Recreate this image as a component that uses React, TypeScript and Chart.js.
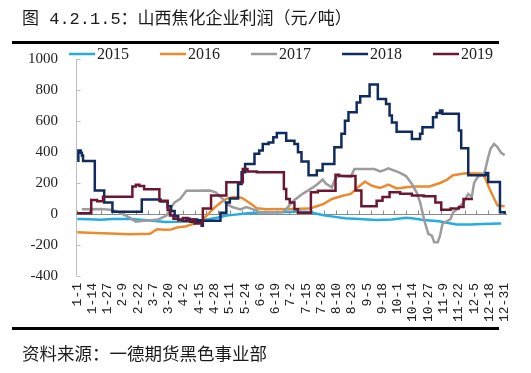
import React, { useEffect, useRef } from "react";
import { Chart, registerables } from "chart.js";

Chart.register(...registerables);

// ---------- data ----------
const seriesNames = ["2015", "2016", "2017", "2018", "2019"];

const tickLabels = [
  "1-1", "1-14", "1-27", "2-9", "2-22", "3-7", "3-20", "4-2", "4-15", "4-28",
  "5-11", "5-24", "6-6", "6-19", "7-2", "7-15", "7-28", "8-10", "8-23", "9-5",
  "9-18", "10-1", "10-14", "10-27", "11-9", "11-22", "12-5", "12-18", "12-31",
];
const TICK_LABEL_STEP = 13; // days between axis labels
const TICK_MARK_STEP = 10; // days between tick marks on the zero line

// day of year (0 = 1-1) and profit (yuan/ton)
const days2015 = [0, 10, 20, 30, 45, 60, 75, 85, 95, 105, 113, 120, 127, 135, 145, 155, 170, 185, 195, 200, 205, 210, 218, 228, 240, 255, 268, 280, 285, 295, 308, 316, 323, 335, 345, 361];
const vals2015 = [-32, -34, -37, -32, -33, -40, -52, -50, -45, -42, -32, -22, -10, -4, 5, 10, 12, 15, 15, 8, 0, -8, -17, -27, -33, -38, -36, -25, -28, -38, -47, -58, -68, -68, -64, -62];

const days2016 = [0, 15, 28, 45, 62, 68, 75, 80, 86, 92, 99, 106, 110, 116, 122, 127, 133, 140, 144, 149, 153, 161, 181, 198, 204, 210, 217, 226, 233, 239, 245, 251, 258, 265, 272, 280, 288, 300, 309, 315, 320, 331, 344, 347, 351, 355, 358, 364];
const vals2016 = [-118, -122, -126, -130, -128, -98, -102, -100, -85, -80, -64, -43, -12, 35, 72, 98, 110, 105, 86, 59, 37, 30, 33, 35, 50, 65, 97, 118, 130, 172, 208, 182, 168, 190, 165, 172, 178, 178, 200, 222, 250, 263, 262, 240, 165, 100, 55, 50];

const days2017 = [4, 20, 28, 33, 37, 45, 50, 55, 69, 76, 79, 83, 88, 93, 113, 118, 122, 125, 127, 132, 139, 144, 148, 152, 156, 175, 178, 181, 185, 192, 201, 205, 209, 212, 217, 219, 222, 233, 236, 253, 258, 262, 265, 270, 275, 280, 285, 289, 292, 294, 296, 299, 302, 304, 307, 309, 311, 314, 318, 320, 324, 329, 333, 336, 338, 341, 345, 347, 350, 352, 355, 358, 361, 364];
const vals2017 = [30, 32, 28, 20, 5, -25, -50, -45, -35, -10, 35, 75, 100, 150, 151, 140, 110, 90, 65, 45, 30, 45, 35, 25, 11, 11, 30, 60, 90, 130, 172, 195, 222, 195, 172, 215, 248, 240, 290, 290, 275, 285, 295, 280, 265, 245, 194, 140, 75, 11, -53, -128, -140, -183, -183, -140, -64, -50, -32, 10, 33, 75, 130, 110, 200, 240, 255, 270, 366, 420, 452, 430, 395, 380];

// weekly-survey series (value holds until the next change)
const days2018 = [0, 1, 3, 4, 5, 15, 23, 30, 55, 71, 77, 80, 83, 86, 90, 93, 96, 99, 102, 104, 106, 107, 122, 127, 130, 137, 140, 143, 151, 155, 158, 163, 167, 170, 178, 185, 188, 191, 197, 204, 209, 219, 225, 228, 231, 238, 241, 249, 256, 263, 266, 268, 272, 285, 292, 294, 303, 306, 309, 311, 325, 327, 333, 348, 350, 360, 364];
const vals2018 = [344, 410, 395, 378, 342, 151, 75, 15, 93, 80, 50, 20, -15, -35, -45, -30, -50, -35, -55, -40, -75, -43, 8, 75, 100, 194, 269, 323, 388, 409, 452, 462, 495, 523, 473, 452, 398, 338, 250, 280, 323, 430, 517, 602, 656, 720, 760, 835, 742, 710, 635, 591, 531, 484, 517, 559, 624, 652, 667, 646, 538, 425, 250, 265, 207, 11, 0];

const days2019 = [0, 12, 17, 22, 47, 50, 53, 57, 70, 77, 79, 82, 86, 90, 94, 98, 100, 107, 114, 127, 141, 145, 153, 176, 178, 181, 185, 188, 199, 205, 220, 223, 237, 242, 255, 260, 266, 275, 285, 295, 305, 310, 318, 325, 329, 337];
const vals2019 = [5, 91, 82, 112, 177, 188, 180, 160, 86, 28, -10, -30, -40, -25, -45, -35, -62, 35, 119, 205, 291, 275, 269, 162, 97, 75, 30, 8, 140, 150, 254, 245, 151, 50, 86, 110, 140, 130, 120, 115, 75, 28, 35, 45, 97, 97];

// ---------- style ----------
const seriesColors = ["#25ADE0", "#EC8A2E", "#9C9C9C", "#112B5E", "#6B1732"];
const seriesStepped = [false, false, false, true, true];
const seriesDays = [days2015, days2016, days2017, days2018, days2019];
const seriesVals = [vals2015, vals2016, vals2017, vals2018, vals2019];

const decorPlugin = {
  id: "decor",
  beforeDatasetsDraw(chart: any) {
    const { ctx, chartArea, scales } = chart;
    const xs = scales.x;
    const ys = scales.y;
    ctx.save();
    ctx.lineWidth = 1;
    // y axis line and inward ticks
    const ax = Math.round(chartArea.left) + 0.5;
    ctx.strokeStyle = "#BDBDBD";
    ctx.beginPath();
    ctx.moveTo(ax, ys.getPixelForValue(ys.max));
    ctx.lineTo(ax, ys.getPixelForValue(ys.min));
    ys.ticks.forEach((t: any) => {
      const py = Math.round(ys.getPixelForValue(t.value)) + 0.5;
      ctx.moveTo(ax, py);
      ctx.lineTo(ax + 4, py);
    });
    ctx.stroke();
    // zero line with tick marks
    const zy = Math.round(ys.getPixelForValue(0)) + 0.5;
    ctx.strokeStyle = "#8A8A8A";
    ctx.beginPath();
    ctx.moveTo(chartArea.left, zy);
    ctx.lineTo(chartArea.right, zy);
    for (let d = 0; d <= 364; d += TICK_MARK_STEP) {
      const px = Math.round(xs.getPixelForValue(d)) + 0.5;
      ctx.moveTo(px, zy);
      ctx.lineTo(px, zy - 4);
    }
    ctx.stroke();
    ctx.restore();
  },
  afterDraw(chart: any) {
    const ctx = chart.ctx;
    ctx.save();
    ctx.font = '16px "Liberation Serif"';
    ctx.textBaseline = "middle";
    ctx.fillStyle = "#222";
    const y0 = 54;
    seriesNames.forEach((name, i) => {
      const x0 = 69 + i * 91;
      ctx.strokeStyle = seriesColors[i];
      ctx.lineWidth = 2.5;
      ctx.beginPath();
      ctx.moveTo(x0, y0);
      ctx.lineTo(x0 + 26, y0);
      ctx.stroke();
      ctx.fillText(name, x0 + 28, y0 + 1);
    });
    ctx.restore();
  },
};

export default function App() {
  const canvasRef = useRef<HTMLCanvasElement | null>(null);

  useEffect(() => {
    document.body.style.margin = "0";
    document.body.style.background = "#fff";
    const canvas = canvasRef.current;
    if (!canvas) return;
    const chart = new Chart(canvas, {
      type: "line",
      data: {
        datasets: seriesNames.map((name, i) => ({
          label: name,
          data: seriesDays[i].map((d, j) => ({ x: d, y: seriesVals[i][j] })),
          borderColor: seriesColors[i],
          backgroundColor: seriesColors[i],
          borderWidth: 2.5,
          pointRadius: 0,
          stepped: seriesStepped[i],
          tension: 0,
          fill: false,
          order: 5 - i,
        })),
      },
      options: {
        animation: false,
        responsive: false,
        maintainAspectRatio: false,
        layout: { padding: { left: 0, top: 59, right: 24, bottom: 47 } },
        plugins: {
          legend: { display: false },
          tooltip: { enabled: false },
          title: { display: false },
        },
        scales: {
          x: {
            type: "linear",
            min: -1,
            max: 366,
            grid: { display: false, drawTicks: false },
            border: { display: false },
            afterBuildTicks: (s: any) => {
              s.ticks = tickLabels.map((_, i) => ({ value: i * TICK_LABEL_STEP }));
            },
            ticks: {
              autoSkip: false,
              minRotation: 90,
              maxRotation: 90,
              padding: 7,
              color: "#222",
              font: { family: "Liberation Mono", size: 13 },
              callback: (_v: any, i: number) => tickLabels[i],
            },
            afterFit: (s: any) => {
              s.height = 50;
            },
          },
          y: {
            min: -400,
            max: 1000,
            grid: { display: false, drawTicks: false },
            border: { display: false },
            ticks: {
              stepSize: 200,
              padding: 18,
              color: "#222",
              font: { family: "Liberation Serif", size: 15 },
              callback: (v: any) => String(v),
            },
            afterFit: (s: any) => {
              s.width = 76;
            },
          },
        },
      },
      plugins: [decorPlugin],
    } as any);
    return () => chart.destroy();
  }, []);

  return (
    <div style={{ position: "relative", width: 531, height: 373, background: "#fff", overflow: "hidden" }}>
      <canvas ref={canvasRef} width={531} height={373} style={{ position: "absolute", left: 0, top: 0, display: "block" }} />
      <div
        style={{
          position: "absolute",
          left: 22,
          top: 10,
          lineHeight: "20px",
          fontSize: 17,
          color: "#1a1a1a",
          fontFamily: '"Liberation Mono", "Noto Sans CJK SC", sans-serif',
          whiteSpace: "nowrap",
        }}
      >
        图 4.2.1.5：山西焦化企业利润（元/吨）
      </div>
      <div style={{ position: "absolute", left: 12, top: 41, width: 487, height: 3, background: "#000" }} />
      <div style={{ position: "absolute", left: 12, top: 327, width: 487, height: 3, background: "#000" }} />
      <div
        style={{
          position: "absolute",
          left: 22,
          top: 343,
          lineHeight: "20px",
          fontSize: 17.5,
          color: "#1a1a1a",
          fontFamily: '"Noto Sans CJK SC", sans-serif',
          whiteSpace: "nowrap",
        }}
      >
        资料来源：一德期货黑色事业部
      </div>
    </div>
  );
}
